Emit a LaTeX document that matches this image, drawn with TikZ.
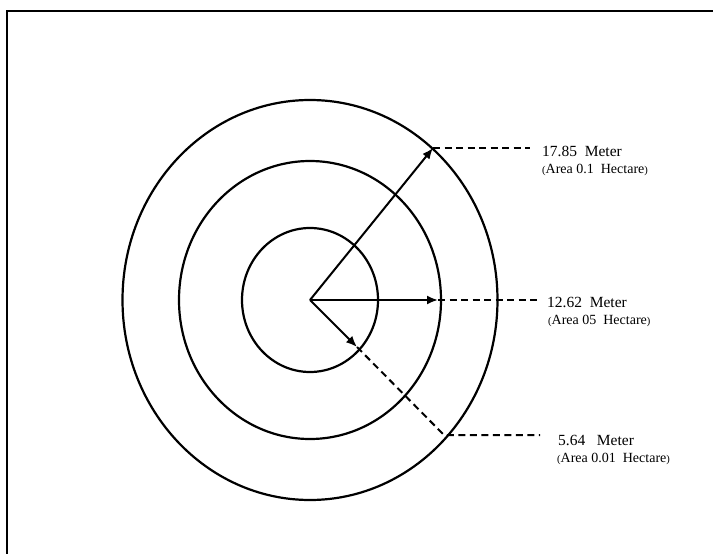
\documentclass[tikz,border=0pt]{standalone}
\usepackage{fontspec}
\setmainfont{Liberation Serif}
\usetikzlibrary{arrows.meta}
\tikzset{
  ring/.style={line width=2.2pt},
  radiusarrow/.style={line width=2pt,-{Latex[length=11pt,width=9pt]}},
  leader/.style={line width=2pt,dash pattern=on 7pt off 4.5pt},
  meterlabel/.style={anchor=west,inner sep=0pt,font=\fontsize{15.5}{15.5}\selectfont},
  arealabel/.style={anchor=west,inner sep=0pt,font=\fontsize{14}{14}\selectfont}
}
\newcommand{\lpar}{{\fontsize{10.5}{10.5}\selectfont(}}
\newcommand{\rpar}{{\fontsize{10.5}{10.5}\selectfont)}}
\begin{document}
\begin{tikzpicture}[x=1pt,y=-1pt]
    \useasboundingbox (0,0) rectangle (713,554);
    \draw[line width=2.4pt] (7,554) -- (7,11) -- (713,11);
    \coordinate (O) at (310,300);
    \draw[ring] (O) ellipse (68pt and 72pt);
    \draw[ring] (O) ellipse (131pt and 139pt);
    \draw[ring] (O) ellipse (187.5pt and 200pt);
    % points on the rings and leader ends
    \coordinate (P1) at (433,148);
    \coordinate (P2) at (438,300);
    \coordinate (P3) at (357,347);
    \coordinate (Q3) at (444,435);
    \coordinate (E1) at (530,148);
    \coordinate (E2) at (537,300);
    \coordinate (E3) at (540,435);
    \draw[radiusarrow] (O) -- (P1);
    \draw[radiusarrow] (O) -- (P2);
    \draw[radiusarrow] (O) -- (P3);
    \draw[leader] (P1) -- (E1);
    \draw[leader] (P2) -- (E2);
    \draw[leader] (P3) -- (Q3) -- (E3);
    \node[meterlabel] (m1) at (542,151) {17.85\ \ Meter};
    \node[arealabel] (a1) at (542,170) {\lpar Area 0.1\ \ Hectare\rpar};
    \node[meterlabel] (m2) at (547,302) {12.62\ \ Meter};
    \node[arealabel] (a2) at (548,321) {\lpar Area 05\ \ Hectare\rpar};
    \node[meterlabel] (m3) at (558,440) {5.64\ \ \ Meter};
    \node[arealabel] (a3) at (557,459) {\lpar Area 0.01\ \ Hectare\rpar};
\end{tikzpicture}
\end{document}
